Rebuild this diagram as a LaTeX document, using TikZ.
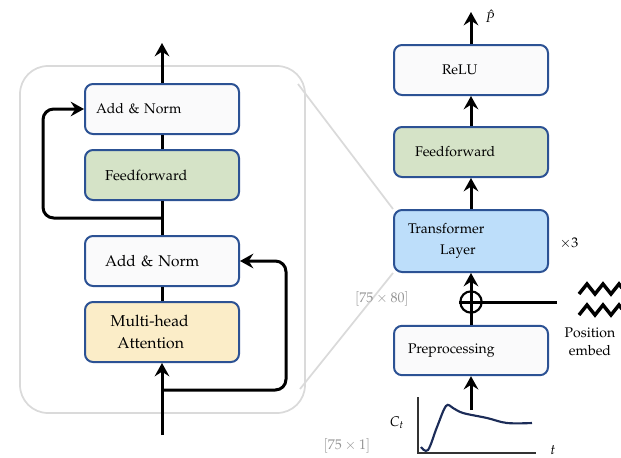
\documentclass[tikz,border=0pt]{standalone}
\usepackage{amsmath,amssymb}
\usepackage[T1]{fontenc}
\usepackage{mathpazo}
\usetikzlibrary{arrows.meta,positioning}
\definecolor{boxblue}{RGB}{44,82,148}
\definecolor{boxwhite}{RGB}{250,250,251}
\definecolor{boxgreen}{RGB}{213,227,199}
\definecolor{boxbeige}{RGB}{251,237,200}
\definecolor{boxsky}{RGB}{189,222,250}
\definecolor{framegray}{RGB}{218,218,218}
\definecolor{dimgray}{RGB}{150,150,150}
\definecolor{signalnavy}{RGB}{28,44,88}

\begin{document}
\begin{tikzpicture}[x=0.75pt,y=-0.75pt]
\tikzset{
  blockbox/.style={rectangle,rounded corners=6pt,draw=boxblue,line width=1.5pt,minimum width=115.5pt,minimum height=37.5pt,text width=99pt,inner xsep=8.25pt,align=left,font=\fontsize{10.5}{16}\selectfont},
  flowline/.style={draw=black,line width=2.25pt,line join=round},
  flowarrow/.style={flowline,-{Stealth[length=10pt,width=11pt,inset=3.5pt]}},
  zoomline/.style={draw=framegray,line width=1.3pt},
  plusnode/.style={circle,draw=black,line width=1.6pt,minimum size=16pt,inner sep=0pt},
  dimlabel/.style={text=dimgray,font=\fontsize{10.5}{12}\selectfont},
  plainlabel/.style={font=\fontsize{10.5}{13.5}\selectfont,align=center}
}
\useasboundingbox (0,0) rectangle (621,457);

% zoomed view of one layer
\draw[zoomline,rounded corners=21pt] (20,66) rectangle (305,413);
\node[blockbox,fill=boxwhite] (n_an2) at (162,109) {Add \& Norm};
\node[blockbox,fill=boxgreen,font=\fontsize{10.8}{16}\selectfont] (n_ffl) at (162,175) {\hspace*{6.75pt}Feedforward};
\node[blockbox,fill=boxwhite,font=\fontsize{11.6}{16}\selectfont] (n_an1) at (162,261) {\hspace*{6.75pt}Add \& Norm};
\node[blockbox,fill=boxbeige,minimum height=45pt,font=\fontsize{11.8}{16.5}\selectfont] (n_mha) at (162,332) {\hspace*{11pt}Multi-head\\\hspace*{16pt}Attention};
\coordinate (c_in) at (162,435);
\coordinate (c_out) at (162,43);
\coordinate (c_res1) at (162,390);
\coordinate (c_res2) at (162,218);
\draw[flowarrow] (c_in) -- (n_mha.south);
\draw[flowline] (n_mha) -- (n_an1);
\draw[flowarrow,rounded corners=8pt] (c_res1) -- (286,390) |- (n_an1.east);
\draw[flowline] (n_an1) -- (n_ffl);
\draw[flowarrow,rounded corners=8pt] (c_res2) -- (43,218) |- (n_an2.west);
\draw[flowline] (n_ffl) -- (n_an2);
\draw[flowarrow] (n_an2.north) -- (c_out);

% full model
\node[blockbox,fill=boxwhite] (n_relu) at (471,70) {\hspace*{27.75pt}ReLU};
\node[blockbox,fill=boxgreen] (n_ffr) at (471,152) {\hspace*{7.5pt}Feedforward};
\node[blockbox,fill=boxsky,minimum height=46.5pt] (n_trans) at (471,241) {\hspace*{2.25pt}Transformer\\\hspace*{26.25pt}Layer};
\node[blockbox,fill=boxwhite,minimum height=37pt] (n_prep) at (471,350.5) {\hspace*{2.25pt}Preprocessing};
\node[plusnode] (n_plus) at (471,302) {};
\coordinate (c_emb) at (557,302);
\coordinate (c_sig) at (471,410);
\coordinate (c_phat) at (471,12);
\draw[flowarrow] (c_sig) -- (n_prep.south);
\draw[flowarrow] (n_prep.north) -- (n_trans.south);
\draw[flowline] (n_plus.west) -- (c_emb);
\draw[flowarrow] (n_trans.north) -- (n_ffr.south);
\draw[flowarrow] (n_ffr.north) -- (n_relu.south);
\draw[flowarrow] (n_relu.north) -- (c_phat);
\node[font=\fontsize{10.5}{12}\selectfont,inner sep=1pt] (n_phat) at (490,16) {$\hat{P}$};
\node[font=\fontsize{10.5}{12}\selectfont] (n_times) at (569,243) {$\times 3$};

% position embedding
\draw[line width=2.6pt,miter limit=10] (579,294) -- (587,284) -- (595,294) -- (603,284) -- (611,294) -- (619,284) -- (622,288);
\draw[line width=2.6pt,miter limit=10] (579,315) -- (587,305) -- (595,315) -- (603,305) -- (611,315) -- (619,305) -- (622,309);
\node[plainlabel] (n_pos) at (590,342) {Position\\embed};

% links to the zoomed layer
\coordinate (c_fne) at (298,84);
\coordinate (c_fse) at (300,389);
\draw[zoomline] (c_fne) -- (n_trans.north west);
\draw[zoomline] (c_fse) -- (n_trans.south west);
\node[dimlabel] (n_dim1) at (382,299) {$[75\times 80]$};
\node[dimlabel] (n_dim2) at (347,446) {$[75\times 1]$};

% input signal
\draw[line width=0.8pt,draw=black!80] (418,397) -- (418,453) -- (536,453);
\draw[signalnavy,line width=1.6pt] plot[smooth,tension=0.6] coordinates {(421,447) (428,450) (437,427) (446,406) (453,408) (463,413) (487,418) (507,423) (532,423)};
\node[font=\fontsize{10.5}{12}\selectfont] (n_ct) at (397,423) {$C_t$};
\node[font=\fontsize{10.5}{12}\selectfont] (n_t) at (553,450) {$t$};
\end{tikzpicture}
\end{document}
